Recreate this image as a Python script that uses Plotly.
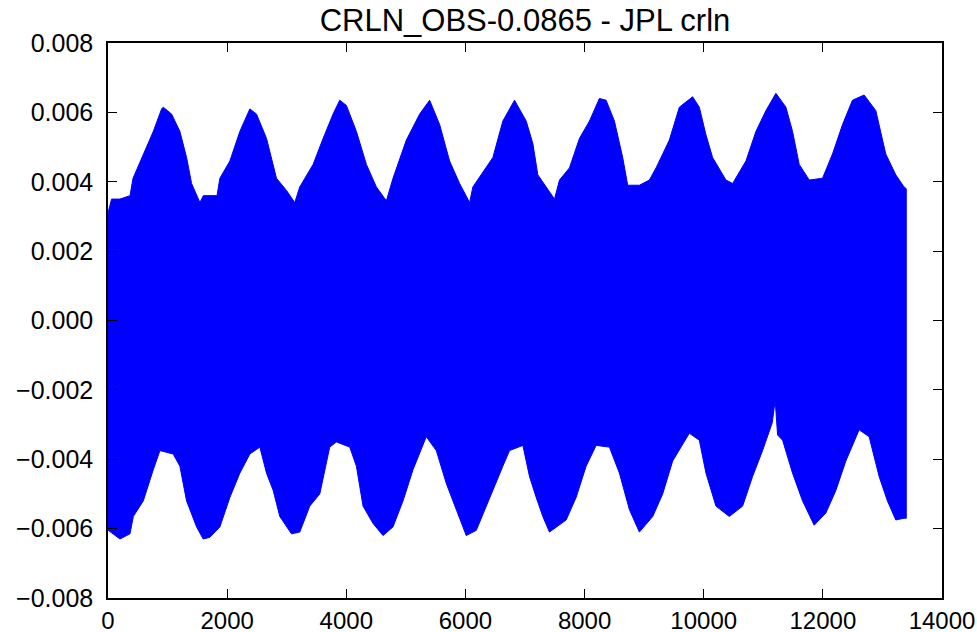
import plotly.graph_objects as go

# Upper envelope of the signal (x sample index, value)
upper_x = [0, 60, 200, 370, 420, 537, 704, 760, 900, 928, 1068, 1207, 1319, 1403, 1543, 1600, 1830,
           1878, 2046, 2213, 2381, 2493, 2661, 2828, 2996, 3135, 3219, 3443, 3611, 3778, 3890, 4002,
           4170, 4338, 4505, 4673, 4784, 5008, 5231, 5399, 5567, 5734, 5902, 6070, 6125, 6461, 6628,
           6824, 7020, 7132, 7215, 7355, 7495, 7579, 7746, 7914, 8082, 8249, 8361, 8501, 8640, 8724,
           8920, 9088, 9200, 9423, 9591, 9814, 9926, 10038, 10149, 10373, 10485, 10709, 10876, 11044,
           11212, 11380, 11491, 11603, 11771, 11994, 12162, 12330, 12497, 12693, 12889, 13056, 13224,
           13363, 13400]
upper_y = [3.1, 3.5, 3.5, 3.6, 4.1, 4.55, 5.2, 5.45, 6.1, 6.15, 5.95, 5.45, 4.7, 3.95, 3.4, 3.6, 3.6,
           4.1, 4.6, 5.45, 6.1, 5.95, 5.25, 4.1, 3.75, 3.4, 3.85, 4.5, 5.25, 5.95, 6.35, 6.2,
           5.45, 4.5, 3.85, 3.45, 4.1, 5.2, 5.95, 6.35, 5.65, 4.6, 3.95, 3.4, 3.85, 4.7, 5.75,
           6.35, 5.75, 5.1, 4.2, 3.85, 3.5, 4.05, 4.4, 5.25, 5.75, 6.4, 6.35, 5.75, 4.7, 3.9,
           3.9, 4.05, 4.4, 5.2, 6.15, 6.45, 6.15, 5.35, 4.7, 4.05, 3.95, 4.6, 5.45, 6.05,
           6.55, 6.15, 5.45, 4.5, 4.05, 4.1, 4.8, 5.65, 6.35, 6.5, 6.05, 4.8, 4.2,
           3.85, 3.8]

# Lower envelope of the signal
lower_x = [0, 5, 201, 369, 425, 592, 760, 872, 1095, 1207, 1319, 1487, 1598, 1710, 1878, 2046, 2213,
           2381, 2549, 2661, 2773, 2884, 3080, 3219, 3387, 3555, 3722, 3834, 4058, 4170, 4281, 4449,
           4617, 4784, 4952, 5120, 5343, 5511, 5679, 5847, 6014, 6182, 6405, 6628, 6740, 6964, 7076,
           7188, 7299, 7411, 7691, 7858, 8026, 8194, 8417, 8585, 8752, 8920, 9144, 9311, 9479, 9758,
           9926, 10038, 10205, 10429, 10653, 10820, 10988, 11150, 11200, 11240, 11324, 11491, 11659,
           11854, 12050, 12218, 12386, 12609, 12777, 12945, 13084, 13224, 13363, 13400]
lower_y = [-5.9, -6.05, -6.3, -6.15, -5.65, -5.2, -4.3, -3.75, -3.85, -4.2, -5.2, -5.95, -6.3, -6.25, -5.95, -5.1, -4.4,
           -3.85, -3.65, -4.4, -4.9, -5.65, -6.15, -6.1, -5.35, -5.0, -3.65, -3.5, -3.65, -4.2, -5.35, -5.85,
           -6.2, -5.95, -5.2, -4.3, -3.35, -3.75, -4.7, -5.45, -6.2, -6.05, -5.1, -4.2, -3.75, -3.6, -4.5,
           -5.1, -5.65, -6.1, -5.75, -5.1, -4.2, -3.6, -3.65, -4.4, -5.45, -6.1, -5.65, -5.0, -4.05, -3.25,
           -3.45, -4.4, -5.35, -5.65, -5.35, -4.5, -3.75, -2.95, -2.3, -3.3, -3.45, -4.4, -5.2,
           -5.9, -5.55, -4.9, -4.05, -3.15, -3.35, -4.5, -5.2, -5.75, -5.7, -5.7]

title_text = "CRLN_OBS-0.0865 - JPL crln"
x_ticks = [0, 2000, 4000, 6000, 8000, 10000, 12000, 14000]
y_ticks = [-0.008, -0.006, -0.004, -0.002, 0.0, 0.002, 0.004, 0.006, 0.008]

poly_x = upper_x + lower_x[::-1]
poly_y = [v * 1e-3 for v in upper_y] + [v * 1e-3 for v in lower_y[::-1]]

fig = go.Figure()
fig.add_trace(go.Scatter(
    x=poly_x, y=poly_y, mode="lines", fill="toself",
    fillcolor="#0000ff", line=dict(color="#0000ff", width=1),
    hoverinfo="skip", showlegend=False,
))

font_family = "Liberation Sans, Arial, DejaVu Sans, sans-serif"
axis_common = dict(
    showgrid=False, zeroline=False, showline=True, linecolor="black", linewidth=1.5,
    mirror="ticks", ticks="inside", ticklen=9, tickwidth=1.2, tickcolor="black",
    automargin=False,
)
fig.update_xaxes(range=[0, 14000], tickvals=x_ticks, tickformat="d", ticklabelstandoff=0,
                 tickfont=dict(family=font_family, size=24, color="black"), **axis_common)
fig.update_yaxes(range=[-0.008, 0.008], tickvals=y_ticks, tickformat=".3f", ticklabelstandoff=8,
                 tickfont=dict(family=font_family, size=25, color="black"), **axis_common)

fig.update_layout(
    width=977, height=632,
    margin=dict(l=108, r=35, t=43, b=34),
    paper_bgcolor="white", plot_bgcolor="white",
    title=dict(text=title_text, x=0.5, xref="paper", y=1 - 20 / 632, yref="container",
               yanchor="middle", xanchor="center", automargin=False,
               font=dict(family=font_family, size=31, color="black")),
)

fig.write_html("out.html", config={"displayModeBar": False},
               post_script="document.body.style.margin='0';document.body.style.overflow='hidden';")
